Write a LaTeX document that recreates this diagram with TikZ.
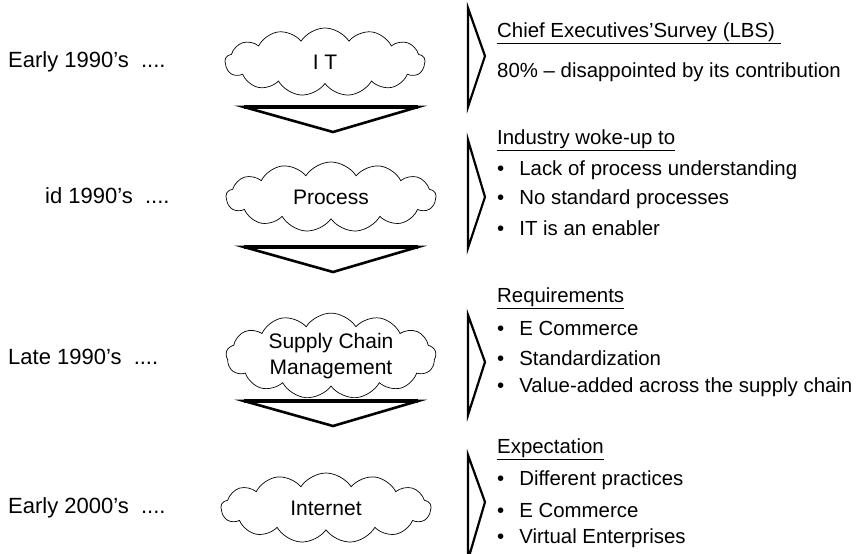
\documentclass[tikz,border=0pt]{standalone}
\usepackage{fontspec}
\setmainfont{Liberation Sans}
\usetikzlibrary{shapes.symbols}
\begin{document}
\begin{tikzpicture}[x=1pt,y=-1pt,
  txt/.style={anchor=west,inner sep=0pt,font=\fontsize{20.4}{25}\selectfont},
  era/.style={anchor=west,inner sep=0pt,font=\fontsize{22}{26}\selectfont},
  cloudbox/.style={cloud,draw,line width=0.7pt,cloud puffs=13,cloud puff arc=115,cloud ignores aspect,inner sep=0pt,align=center,font=\fontsize{21}{26}\selectfont},
  downtri/.style={draw,line width=2.6pt,line join=miter,fill=white},
  chev/.style={draw,line width=2.2pt,line join=miter}]
\useasboundingbox (0,0) rectangle (860,554);
% left labels
\node[era] (e1) at (8,62) {Early 1990’s\ \ ....};
\node[era] (e2) at (45,196) {id 1990’s\ \ ....};
\node[era] (e3) at (8,357) {Late 1990’s\ \ ....};
\node[era] (e4) at (8,508) {Early 2000’s\ \ ....};
% clouds
\node[cloudbox,minimum width=200pt,minimum height=68pt] (c1) at (325,62) {I T};
\node[cloudbox,minimum width=210pt,minimum height=70pt] (c2) at (331,197) {Process};
\node[cloudbox,minimum width=210pt,minimum height=72pt] (c3) at (331,356) {Supply Chain\\Management};
\node[cloudbox,minimum width=210pt,minimum height=70pt] (c4) at (326,508) {Internet};
% down triangles
\draw[downtri] (244,107) -- (418,107) -- (333,132) -- cycle;
\draw[line width=4pt] (244,107) -- (418,107);
\draw[downtri] (244,247) -- (418,247) -- (333,272) -- cycle;
\draw[line width=4pt] (244,247) -- (418,247);
\draw[downtri] (244,401) -- (418,401) -- (333,426) -- cycle;
\draw[line width=4pt] (244,401) -- (418,401);
% chevrons
\draw[chev] (468,8) -- (485,56) -- (468,107) -- cycle;
\draw[chev] (468,140) -- (485,197) -- (468,248) -- cycle;
\draw[chev] (468,315) -- (485,362) -- (468,415) -- cycle;
\draw[chev] (468,455) -- (485,502) -- (468,560) -- cycle;
% block 1
\node[txt] (h1) at (497,33) {\underline{Chief Executives’Survey (LBS) }};
\node[txt] (t1) at (497,72) {80\% – disappointed by its contribution};
% block 2
\node[txt] (h2) at (497,140) {\underline{Industry woke-up to}};
\node[txt] (b21) at (497,170) {•\hspace{15pt}Lack of process understanding};
\node[txt] (b22) at (497,199) {•\hspace{15pt}No standard processes};
\node[txt] (b23) at (497,228) {•\hspace{15pt}IT is an enabler};
% block 3
\node[txt] (h3) at (497,298) {\underline{Requirements}};
\node[txt] (b31) at (497,328) {•\hspace{15pt}E Commerce};
\node[txt] (b32) at (497,358) {•\hspace{15pt}Standardization};
\node[txt] (b33) at (497,387) {•\hspace{15pt}Value-added across the supply chain};
% block 4
\node[txt] (h4) at (497,449) {\underline{Expectation}};
\node[txt] (b41) at (497,480) {•\hspace{15pt}Different practices};
\node[txt] (b42) at (497,510) {•\hspace{15pt}E Commerce};
\node[txt] (b43) at (497,538) {•\hspace{15pt}Virtual Enterprises};
\end{tikzpicture}
\end{document}
